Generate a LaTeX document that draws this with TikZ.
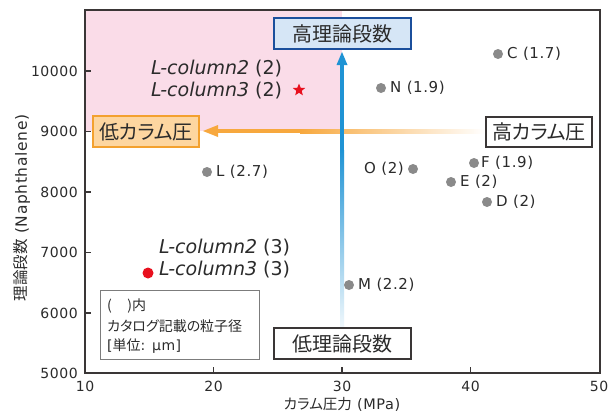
\documentclass[tikz,border=0pt]{standalone}
\usepackage{fontspec}
\setmainfont{DejaVu Sans}
\newfontfamily\spaced[LetterSpace=4]{DejaVu Sans}
\newfontfamily\cjk[RawFeature=+palt]{Noto Sans CJK JP}
\usetikzlibrary{shapes.geometric}
\definecolor{pinkc}{HTML}{FADCE8}
\definecolor{orangeA}{HTML}{F7A83E}
\definecolor{orangeBox}{HTML}{FDD6A0}
\definecolor{orangeLine}{HTML}{F3A12F}
\definecolor{blueA}{HTML}{1F93D4}
\definecolor{blueBox}{HTML}{D6E6F6}
\definecolor{blueLine}{HTML}{1B4F9C}
\definecolor{axisc}{HTML}{3A3636}
\definecolor{dotc}{HTML}{8A8A8A}
\definecolor{txtc}{HTML}{2B2B2B}
\definecolor{redc}{HTML}{E8101E}
\tikzset{
  tag/.style={draw=axisc, line width=1.1pt, fill=white, text=txtc, minimum width=137pt, minimum height=31pt, inner sep=0pt, font=\cjk\fontsize{20}{20}\selectfont},
  pt/.style={circle, fill=dotc, minimum size=10pt, inner sep=0pt},
  lab/.style={text=txtc, inner sep=0pt, font=\spaced\fontsize{15}{15}\selectfont},
  tick/.style={text=txtc, inner sep=0pt, font=\spaced\fontsize{14}{14}\selectfont},
  big/.style={text=txtc, inner sep=0pt, anchor=west, font=\fontsize{19}{19}\selectfont}
}
\begin{document}
\begin{tikzpicture}[x=1pt,y=-1pt]
\useasboundingbox (0,0) rectangle (609,412);
\fill[white] (0,0) rectangle (609,412);
% pink region
\fill[pinkc] (85,10) rectangle (342,131);
% orange arrow (high -> low pressure)
\coordinate (oT) at (203,131);
\fill[orangeA] (216,129) rectangle (300.5,133.2);
\shade[left color=orangeA, right color=white] (300,129) rectangle (485,133.2);
\fill[orangeA] (oT) -- (218,125) -- (218,137) -- cycle;
% blue arrow (low -> high plates)
\coordinate (bT) at (342,52);
\fill[blueA] (340,63) rectangle (344.2,150.5);
\shade[top color=blueA, bottom color=white] (340,150) rectangle (344.2,340);
\fill[blueA] (bT) -- (336.5,65) -- (347.5,65) -- cycle;
% axes frame
\draw[axisc, line width=1.2pt] (85,10) rectangle (600,373);
\foreach \y in {71,131.5,192,252.5,313} \draw[axisc, line width=1.1pt] (85,\y) -- (91,\y);
\foreach \x in {213.5,342,470.5} \draw[axisc, line width=1.1pt] (\x,373) -- (\x,367);
% tick labels
\node[tick, anchor=east] (y5) at (78,373) {5000};
\node[tick, anchor=east] (y6) at (78,313) {6000};
\node[tick, anchor=east] (y7) at (78,252.5) {7000};
\node[tick, anchor=east] (y8) at (78,192) {8000};
\node[tick, anchor=east] (y9) at (78,131.5) {9000};
\node[tick, anchor=east] (y10) at (78,71) {10000};
\node[tick] (x10) at (85,386) {10};
\node[tick] (x20) at (213.5,386) {20};
\node[tick] (x30) at (342,386) {30};
\node[tick] (x40) at (470.5,386) {40};
\node[tick] (x50) at (599,386) {50};
% axis titles
\node[lab, font=\spaced\fontsize{14.5}{14.5}\selectfont] (xt) at (342,404) {{\cjk カラム圧力} (MPa)};
\node[lab, rotate=90, font=\spaced\fontsize{15.5}{15.5}\selectfont] (yt) at (22,208) {{\cjk 理論段数} (Naphthalene)};
% tags
\node[tag, draw=blueLine, fill=blueBox] (hiN) at (342.5,33.5) {高理論段数};
\node[tag] (loN) at (342.5,343.5) {低理論段数};
\node[tag, minimum width=106pt, minimum height=30pt] (hiP) at (539,132) {高カラム圧};
\node[tag, draw=orangeLine, fill=orangeBox, minimum width=106pt, minimum height=31pt] (loP) at (146,131.5) {低カラム圧};
% data points
\node[pt] (C) at (498,54) {};
\node[lab, anchor=west] (Cl) at (507,54) {C (1.7)};
\node[pt] (N) at (381,88) {};
\node[lab, anchor=west] (Nl) at (390,88) {N (1.9)};
\node[pt] (F) at (474,163) {};
\node[lab, anchor=west] (Fl) at (481,163) {F (1.9)};
\node[pt] (O) at (413,169) {};
\node[lab, anchor=east] (Ol) at (404,169) {O (2)};
\node[pt] (E) at (451,182) {};
\node[lab, anchor=west] (El) at (460,182) {E (2)};
\node[pt] (D) at (487,202) {};
\node[lab, anchor=west] (Dl) at (496,202) {D (2)};
\node[pt] (L) at (207,172) {};
\node[lab, anchor=west] (Ll) at (216,172) {L (2.7)};
\node[pt] (M) at (349,285) {};
\node[lab, anchor=west] (Ml) at (358,285) {M (2.2)};
% L-column
\node[star, star points=5, star point ratio=2.3, fill=redc, minimum size=13pt, inner sep=0pt] (rs) at (299,90) {};
\node[big] (lc22) at (151,69) {\textit{L-column2} (2)};
\node[big] (lc32) at (151,91) {\textit{L-column3} (2)};
\node[circle, fill=redc, minimum size=11pt, inner sep=0pt] (rd) at (148,273) {};
\node[big] (lc23) at (159,248) {\textit{L-column2} (3)};
\node[big] (lc33) at (159,270) {\textit{L-column3} (3)};
% legend
\draw[dotc!90!black, line width=0.8pt] (100,290) rectangle (259,359);
\node[lab, anchor=west, font=\cjk\fontsize{14}{14}\selectfont] (lg1) at (107,306) {(\hspace{1.1em})内};
\node[lab, anchor=west, font=\cjk\fontsize{14}{14}\selectfont] (lg2) at (107,326) {カタログ記載の粒子径};
\node[lab, anchor=west, font=\spaced\fontsize{14}{14}\selectfont] (lg3) at (107,346) {[{\cjk 単位}: μm]};
\end{tikzpicture}
\end{document}
